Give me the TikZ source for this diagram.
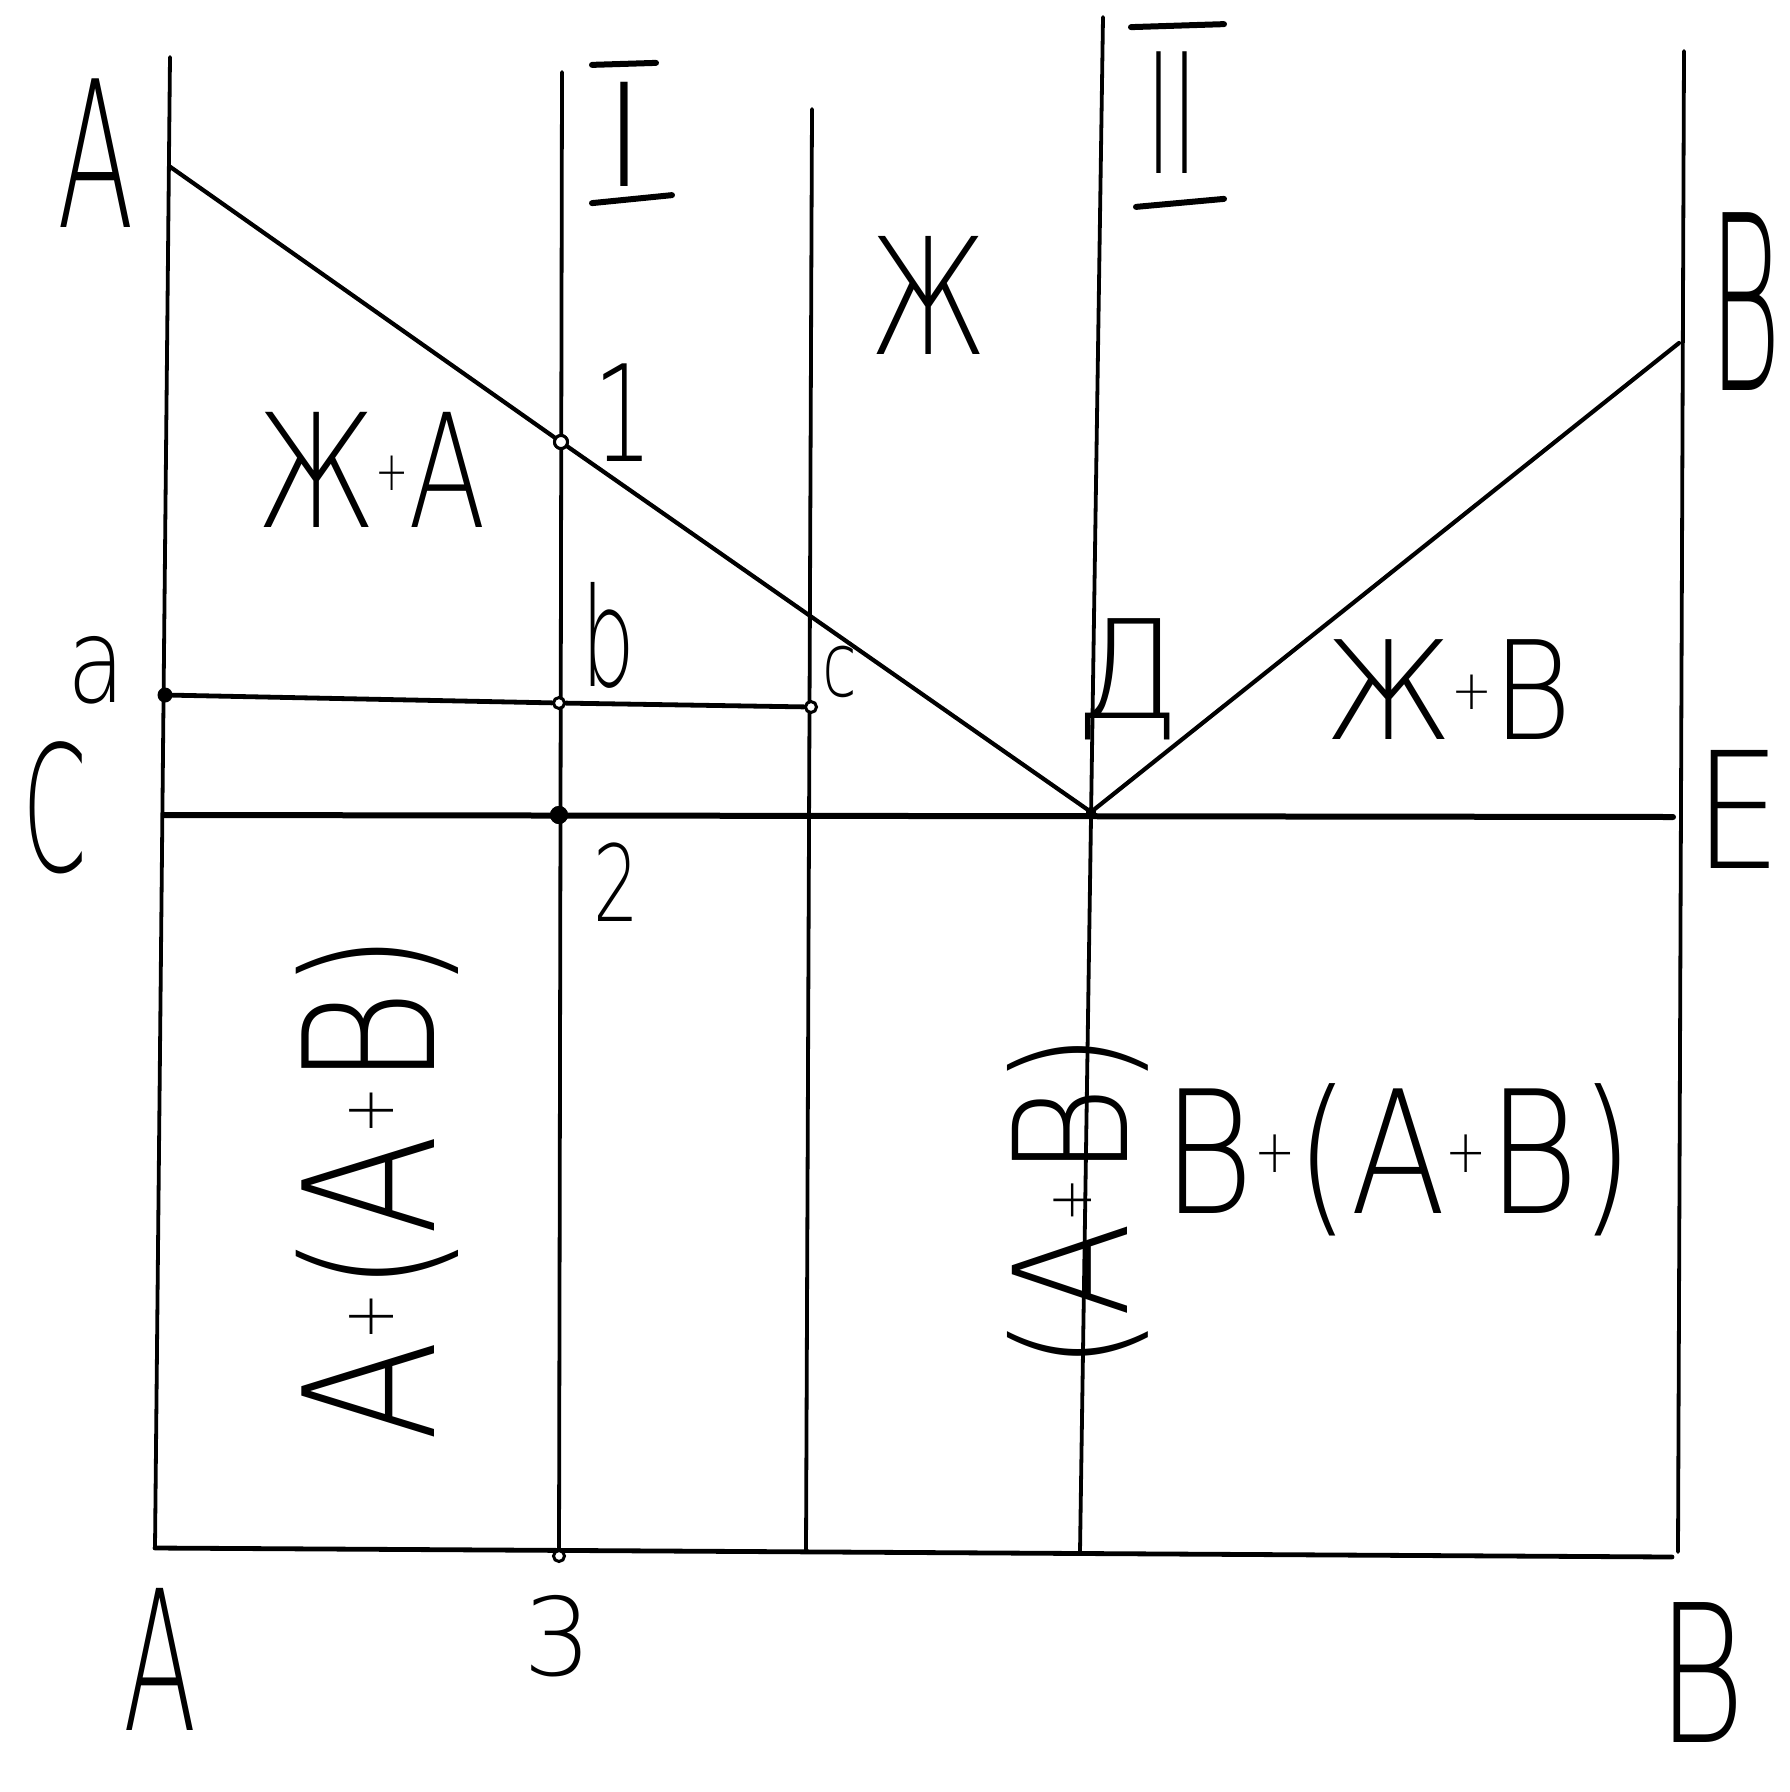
\documentclass[tikz,border=0pt]{standalone}
\usepackage{fontspec}
\usepackage{graphicx}
\setmainfont{DejaVu Sans ExtraLight}
\newcommand\hw[3]{\scalebox{#1}[1]{\fontsize{#2}{#2}\selectfont #3}}
\newcommand\hwplus[2]{\raisebox{#2pt}{\fontsize{#1}{#1}\selectfont +}}
\begin{document}
\begin{tikzpicture}[x=1pt,y=-1pt,
  ln/.style={line width=3.8pt, line cap=round},
  liq/.style={line width=4.2pt, line cap=round, line join=round},
  thk/.style={line width=6pt, line cap=round},
  mid/.style={line width=4.8pt, line cap=round},
  bar/.style={line width=6pt, line cap=round},
  lbl/.style={inner sep=0pt, outer sep=0pt},
  fdot/.style={circle, fill, inner sep=0pt, minimum size=#1},
  odot/.style={circle, draw, line width=3pt, fill=white, inner sep=0pt, minimum size=#1}]
\useasboundingbox (0,0) rectangle (1790,1792);
% frame coordinates
\coordinate (Lt) at (170,57);   \coordinate (Lb) at (155,1548);
\coordinate (It) at (562,72);   \coordinate (Ib) at (559,1556);
\coordinate (Mt) at (812,109);  \coordinate (Mb) at (806,1552);
\coordinate (IIt) at (1103,17); \coordinate (IIb) at (1080,1552);
\coordinate (Rt) at (1684,51);  \coordinate (Rb) at (1678,1552);
\coordinate (BR) at (1672,1557);
\coordinate (Apt) at (169,166); \coordinate (Bpt) at (1679,343);
\coordinate (Cpt) at (164,815); \coordinate (Ept) at (1673,817);
% lines
\draw[ln] (Lt) -- (Lb);
\draw[ln] (It) -- (Ib);
\draw[ln] (Mt) -- (Mb);
\draw[ln] (IIt) -- (IIb);
\draw[ln] (Rt) -- (Rb);
\draw[mid] (Lb) -- (BR);
% points
\node[fdot=15pt] (pa) at (165,695) {};
\node[odot=11pt] (pb) at (559,703) {};
\node[odot=11pt] (pc) at (811,707) {};
\node[odot=13pt] (p1) at (561,442) {};
\node[fdot=18pt] (p2) at (559,815) {};
\node[fdot=10pt] (pD) at (1091,812) {};
\node[odot=11pt] (p3) at (559,1556) {};
\draw[liq] (Apt) -- (p1) -- (pD.center) -- (Bpt);
\draw[thk] (Cpt) -- (Ept);
\draw[mid] (pa) -- (pb) -- (pc);
\node[fdot=18pt] at (p2) {};
\node[fdot=10pt] at (pD) {};
\node[odot=13pt] at (p1) {};
% labels
\node[lbl] (lA) at (96,153) {\hw{0.55}{204}{A}};
\node[lbl] (nI) at (625,134) {\hw{1}{143}{I}};
\draw[bar] ([shift={(-33,-17)}]nI.north) -- ([shift={(31,-19)}]nI.north);
\draw[bar] ([shift={(-33,17)}]nI.south) -- ([shift={(47,9)}]nI.south);
\node[lbl] (nII) at (1172,113) {\hw{0.51}{167}{II}};
\draw[bar] ([shift={(-41,-25)}]nII.north) -- ([shift={(52,-28)}]nII.north);
\draw[bar] ([shift={(-36,33)}]nII.south) -- ([shift={(52,25)}]nII.south);
\node[lbl] (lZh) at (929,295) {\hw{0.69}{162}{Ж}};
\node[lbl] (lB) at (1745,302) {\hw{0.45}{244}{B}};
\node[lbl] (l1) at (623,413) {\hw{0.7}{134}{1}};
\node[lbl] (lZA) at (372,470) {\hw{0.72}{158}{Ж\hwplus{55}{37}A}};
\node[lbl] (lb) at (608,635) {\hw{0.62}{137}{b}};
\node[lbl] (la) at (96,670) {\hw{0.8}{118}{a}};
\node[lbl] (lc) at (840,672) {\hw{0.7}{90}{c}};
\node[lbl] (lD) at (1128,679) {\hw{1}{137}{Д}};
\node[lbl] (lZB) at (1449,690) {\hw{0.89}{137}{Ж\hwplus{55}{30}B}};
\node[lbl] (lC) at (55,808) {\hw{0.53}{175}{C}};
\node[lbl] (lE) at (1738,809) {\hw{0.85}{162}{E}};
\node[lbl] (l2) at (616,882) {\hw{0.68}{106}{2}};
\node[lbl, rotate=90] (lAAB) at (377,1187) {\hw{0.81}{182}{A\hwplus{70}{41}(A\hwplus{70}{41}B)}};
\node[lbl, rotate=90] (lAB) at (1078,1202) {\hw{0.88}{158}{(A\hwplus{60}{36}B)}};
\node[lbl] (lBAB) at (1398,1160) {\hw{0.82}{171}{B\hwplus{60}{41}(A\hwplus{60}{41}B)}};
\node[lbl] (lA2) at (160,1659) {\hw{0.55}{195}{A}};
\node[lbl] (l3) at (558,1636) {\hw{1}{108}{3}};
\node[lbl] (lB2) at (1701,1672) {\hw{0.7}{192}{B}};
\end{tikzpicture}
\end{document}
